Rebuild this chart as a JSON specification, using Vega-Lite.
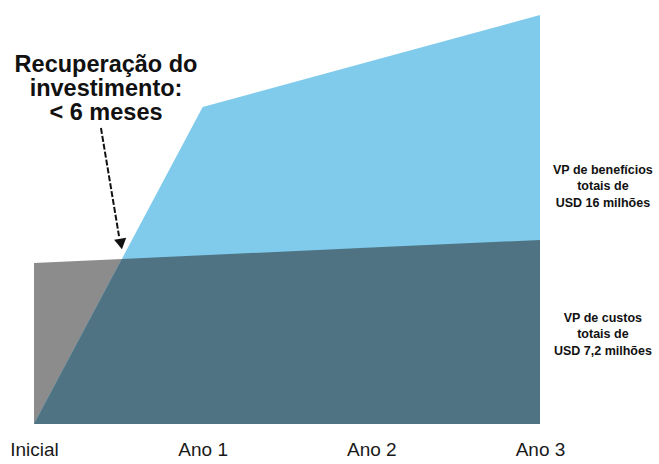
{
  "$schema": "https://vega.github.io/schema/vega-lite/v6.json",
  "width": 506,
  "height": 409,
  "autosize": {"type": "none"},
  "padding": {"left": 34, "top": 15, "right": 119, "bottom": 40},
  "background": "white",
  "config": {"view": {"stroke": null}, "font": "Liberation Sans"},
  "datasets": {
    "series": [
      {"t": 0, "custo": 6.3, "beneficio": 0, "minimo": 0},
      {"t": 0.5207, "custo": 6.456, "beneficio": 6.456, "minimo": 6.456},
      {"t": 1, "custo": 6.6, "beneficio": 12.4, "minimo": 6.6},
      {"t": 2, "custo": 6.9, "beneficio": 14.2, "minimo": 6.9},
      {"t": 3, "custo": 7.2, "beneficio": 16.0, "minimo": 7.2}
    ],
    "labels": [
      {"t": 3.373, "v": 9.94, "txt": ["VP de benefícios", "totais de", "USD 16 milhões"]},
      {"t": 3.373, "v": 4.15, "txt": ["VP de custos", "totais de", "USD 7,2 milhões"]}
    ],
    "note": [
      {"t": 0.427, "v": 14.05, "txt": ["Recuperação do", "investimento:", "< 6 meses"]}
    ],
    "arrow": [
      {"t1": 0.397, "v1": 11.58, "t2": 0.504, "v2": 7.35, "th": 0.516, "vh": 7.04}
    ]
  },
  "layer": [
    {
      "data": {"name": "series"},
      "mark": {"type": "area", "color": "#8C8C8C", "interpolate": "linear"},
      "encoding": {
        "x": {"field": "t", "type": "quantitative", "scale": {"domain": [0, 3], "nice": false},
          "axis": {"values": [0, 1, 2, 3], "title": null, "domain": false, "ticks": false, "grid": false,
            "labelExpr": "datum.value == 0 ? 'Inicial' : 'Ano ' + datum.value",
            "labelFontSize": 19, "labelColor": "#1a1a1a", "labelPadding": 16, "labelFlush": false, "labelOverlap": false, "labelFont": "Liberation Sans"}},
        "y": {"field": "custo", "type": "quantitative", "scale": {"domain": [0, 16], "nice": false}, "axis": null}
      }
    },
    {
      "data": {"name": "series"},
      "mark": {"type": "area", "color": "#80CBEC"},
      "encoding": {
        "x": {"field": "t", "type": "quantitative"},
        "y": {"field": "beneficio", "type": "quantitative"}
      }
    },
    {
      "data": {"name": "series"},
      "mark": {"type": "area", "color": "#4F7383"},
      "encoding": {
        "x": {"field": "t", "type": "quantitative"},
        "y": {"field": "minimo", "type": "quantitative"}
      }
    },
    {
      "data": {"name": "labels"},
      "mark": {"type": "text", "font": "Liberation Sans", "fontWeight": "bold", "fontSize": 12.5, "lineHeight": 16.5, "align": "center", "baseline": "middle", "color": "#111", "clip": false},
      "encoding": {
        "x": {"field": "t", "type": "quantitative"},
        "y": {"field": "v", "type": "quantitative"},
        "text": {"field": "txt"}
      }
    },
    {
      "data": {"name": "note"},
      "mark": {"type": "text", "font": "Liberation Sans", "fontWeight": "bold", "fontSize": 23.5, "lineHeight": 24, "align": "center", "baseline": "middle", "color": "#111"},
      "encoding": {
        "x": {"field": "t", "type": "quantitative"},
        "y": {"field": "v", "type": "quantitative"},
        "text": {"field": "txt"}
      }
    },
    {
      "data": {"name": "arrow"},
      "mark": {"type": "rule", "color": "#111", "strokeWidth": 2, "strokeDash": [6, 2]},
      "encoding": {
        "x": {"field": "t1", "type": "quantitative"},
        "y": {"field": "v1", "type": "quantitative"},
        "x2": {"field": "t2"},
        "y2": {"field": "v2"}
      }
    },
    {
      "data": {"name": "arrow"},
      "mark": {"type": "point", "shape": "triangle-down", "filled": true, "color": "#111", "size": 150, "angle": 350.5, "opacity": 1},
      "encoding": {
        "x": {"field": "th", "type": "quantitative"},
        "y": {"field": "vh", "type": "quantitative"}
      }
    }
  ]
}
